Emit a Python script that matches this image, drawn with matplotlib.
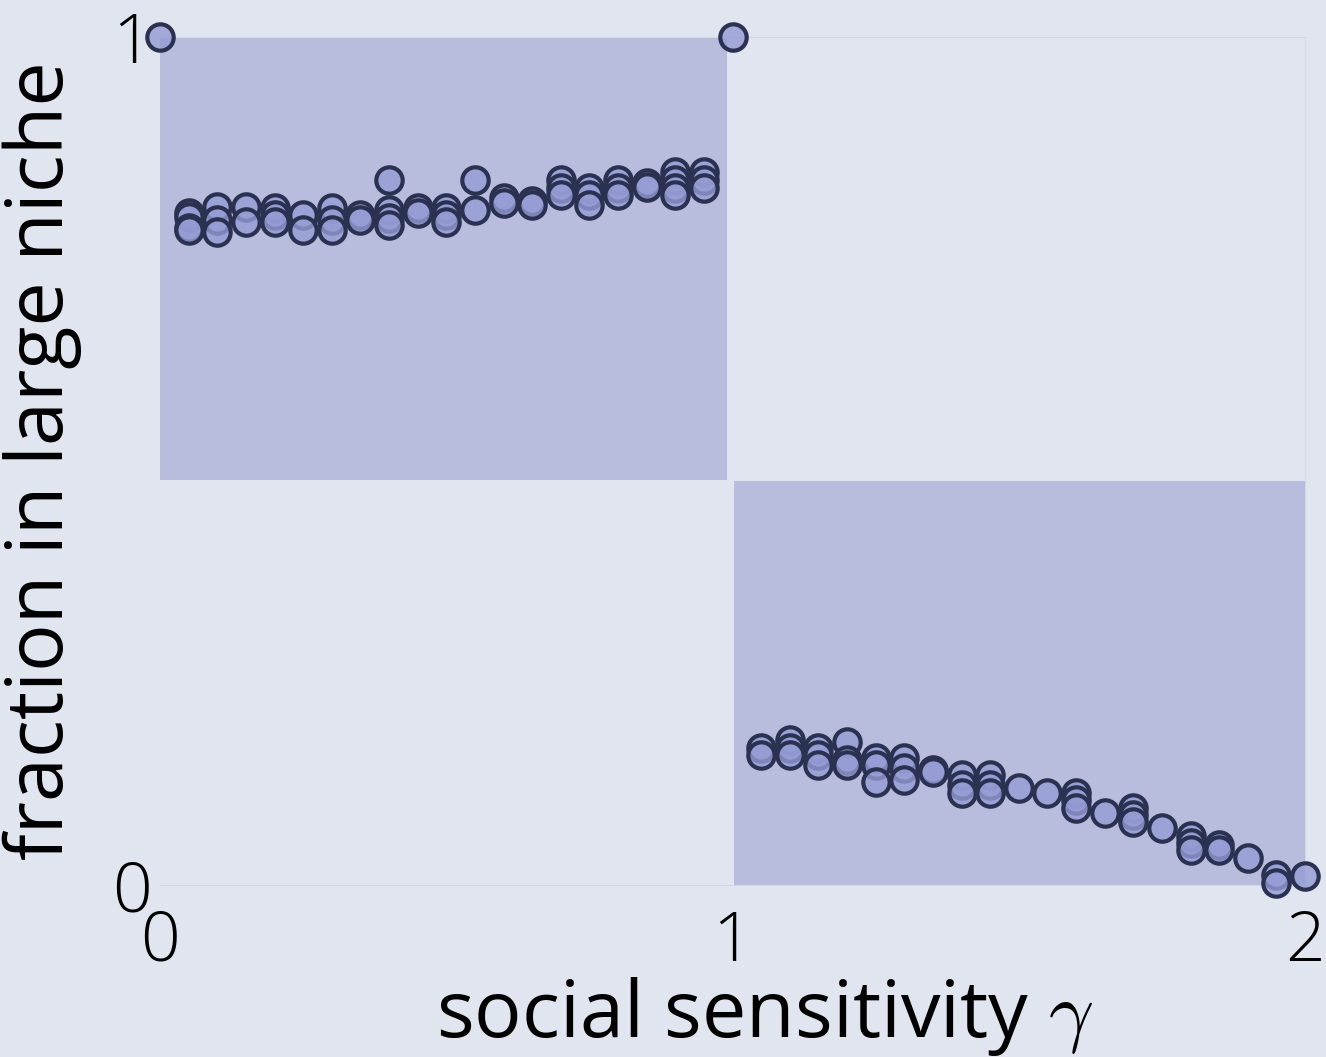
import numpy as np
import matplotlib.pyplot as plt
from matplotlib.patches import Rectangle

plt.rcParams['font.family'] = ['Open Sans', 'DejaVu Sans']
plt.rcParams['font.weight'] = 'light'
plt.rcParams['mathtext.fontset'] = 'cm'

# fraction in the large niche for each gamma, several runs per gamma
gamma_low = [0.05, 0.10, 0.15, 0.20, 0.25, 0.30, 0.35, 0.40, 0.45, 0.50,
             0.55, 0.60, 0.65, 0.70, 0.75, 0.80, 0.85, 0.90, 0.95]
frac_low = [
    [0.792, 0.788, 0.775, 0.772],
    [0.800, 0.784, 0.770],
    [0.800, 0.782],
    [0.798, 0.790, 0.782],
    [0.790, 0.772],
    [0.798, 0.784, 0.772],
    [0.790, 0.784],
    [0.831, 0.796, 0.787, 0.778],
    [0.798, 0.793],
    [0.798, 0.790, 0.782],
    [0.831, 0.796],
    [0.810, 0.804],
    [0.807, 0.802],
    [0.831, 0.822, 0.814],
    [0.822, 0.814, 0.802],
    [0.831, 0.822, 0.814],
    [0.828, 0.823],
    [0.841, 0.831, 0.822, 0.814],
    [0.841, 0.831, 0.822],
]
gamma_high = [1.05, 1.10, 1.15, 1.20, 1.25, 1.30, 1.35, 1.40, 1.45, 1.50,
              1.55, 1.60, 1.65, 1.70, 1.75, 1.80, 1.85, 1.90, 1.95, 2.00]
frac_high = [
    [0.162, 0.153],
    [0.171, 0.162, 0.153],
    [0.162, 0.153, 0.142],
    [0.169, 0.147, 0.142],
    [0.150, 0.142, 0.121],
    [0.150, 0.138, 0.124],
    [0.136, 0.133],
    [0.130, 0.118, 0.108],
    [0.130, 0.118, 0.108],
    [0.114],
    [0.108],
    [0.108, 0.100, 0.091],
    [0.085],
    [0.091, 0.083, 0.074],
    [0.067],
    [0.058, 0.050, 0.041],
    [0.047, 0.041],
    [0.032],
    [0.012, 0.002],
    [0.011],
]
gamma_edge = [0.0, 1.0]
frac_edge = [1.0, 1.0]

bg = '#e1e5f0'
shade = '#b8bddd'

fig = plt.figure(figsize=(13.26, 10.57), dpi=100, facecolor=bg)
ax = fig.add_axes([0.1207, 0.1627, 0.8635, 0.8023], facecolor=bg)

ax.add_patch(Rectangle((0, 0.478), 0.99, 0.522, facecolor=shade, edgecolor='none', zorder=1))
ax.add_patch(Rectangle((1.003, 0), 0.997, 0.476, facecolor=shade, edgecolor='none', zorder=1))

xs, ys = [], []
for g, fr in zip(gamma_low + gamma_high, frac_low + frac_high):
    for f in fr:
        xs.append(g)
        ys.append(f)
xs += gamma_edge
ys += frac_edge

ax.plot(xs, ys, 'o', ms=19, mfc=(0.58, 0.61, 0.83, 0.8), mec='#2b3150', mew=3,
        clip_on=False, zorder=3)

ax.set_xlim(0, 2)
ax.set_ylim(0, 1)
ax.set_xticks([0, 1, 2])
ax.set_yticks([0, 1])
ax.tick_params(length=0, labelsize=50)
ax.tick_params(axis='x', pad=17)
ax.tick_params(axis='y', pad=6)
for s in ax.spines.values():
    s.set_color('#d4d8e4')
    s.set_linewidth(0.8)
ax.spines['left'].set_visible(False)

ax.set_xlabel(r'social sensitivity $\gamma$', fontsize=57)
ax.set_ylabel('fraction in large niche', fontsize=57)
ax.xaxis.set_label_coords(0.528, -0.106)
ax.yaxis.set_label_coords(-0.068, 0.5)

fig.savefig('out.png', dpi=100, facecolor=bg)
